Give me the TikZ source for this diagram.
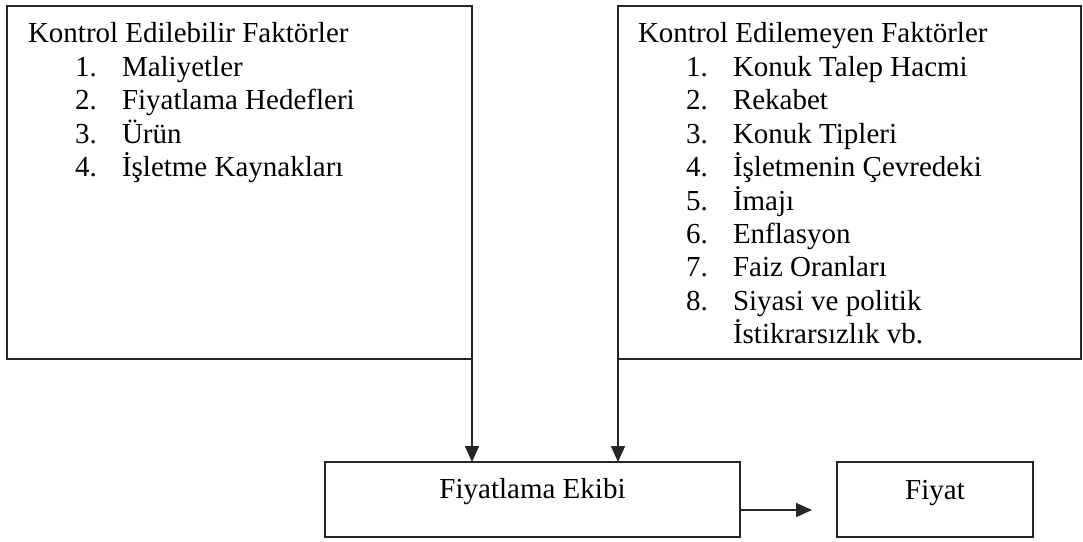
\documentclass[tikz,border=0pt]{standalone}
\usepackage{fontspec}
\setmainfont{Liberation Serif}
\usetikzlibrary{arrows.meta}
\begin{document}
\begin{tikzpicture}[x=0.75pt,y=-0.75pt,
  box/.style={draw=black!85, line width=1.2pt, rectangle, inner sep=0pt, outer sep=0pt},
  lbl/.style={anchor=base west, inner sep=0pt, outer sep=0pt, font=\fontsize{21.75}{25}\selectfont},
  clbl/.style={anchor=base, inner sep=0pt, outer sep=0pt, font=\fontsize{21.75}{25}\selectfont},
  arr/.style={draw=black!85, line width=1.2pt, -{Triangle[length=12pt,width=10.5pt]}}]
\useasboundingbox (0,0) rectangle (1083,542);
% boxes
\node[box, minimum width=465*0.75pt, minimum height=353*0.75pt] (left) at (239.5,182.5) {};
\node[box, minimum width=463*0.75pt, minimum height=353*0.75pt] (right) at (849.5,182.5) {};
\node[box, minimum width=415*0.75pt, minimum height=75*0.75pt] (ekibi) at (532.5,499.5) {};
\node[box, minimum width=196*0.75pt, minimum height=75*0.75pt] (fiyat) at (935,499.5) {};
% left box text
\node[lbl] (lh) at (28,43) {Kontrol Edilebilir Faktörler};
\node[lbl] (ln1) at (75,76.4) {1.};
\node[lbl] (lt1) at (122,76.4) {Maliyetler};
\node[lbl] (ln2) at (75,109.8) {2.};
\node[lbl] (lt2) at (122,109.8) {Fiyatlama Hedefleri};
\node[lbl] (ln3) at (75,143.2) {3.};
\node[lbl] (lt3) at (122,143.2) {Ürün};
\node[lbl] (ln4) at (75,176.6) {4.};
\node[lbl] (lt4) at (122,176.6) {İşletme Kaynakları};
% right box text
\node[lbl] (rh) at (638,43) {Kontrol Edilemeyen Faktörler};
\node[lbl] (rn1) at (686,76.4) {1.};
\node[lbl] (rt1) at (733,76.4) {Konuk Talep Hacmi};
\node[lbl] (rn2) at (686,109.8) {2.};
\node[lbl] (rt2) at (733,109.8) {Rekabet};
\node[lbl] (rn3) at (686,143.2) {3.};
\node[lbl] (rt3) at (733,143.2) {Konuk Tipleri};
\node[lbl] (rn4) at (686,176.6) {4.};
\node[lbl] (rt4) at (733,176.6) {İşletmenin Çevredeki};
\node[lbl] (rn5) at (686,210) {5.};
\node[lbl] (rt5) at (733,210) {İmajı};
\node[lbl] (rn6) at (686,243.4) {6.};
\node[lbl] (rt6) at (733,243.4) {Enflasyon};
\node[lbl] (rn7) at (686,276.8) {7.};
\node[lbl] (rt7) at (733,276.8) {Faiz Oranları};
\node[lbl] (rn8) at (686,310.2) {8.};
\node[lbl] (rt8) at (733,310.2) {Siyasi ve politik};
\node[lbl] (rt9) at (733,343.6) {İstikrarsızlık vb.};
% bottom texts
\node[clbl] (ekibitext) at (532.5,498) {Fiyatlama Ekibi};
\node[clbl] (fiyattext) at (935,499) {Fiyat};
% connectors
\draw[arr] (left.south east) -- (left.south east |- ekibi.north);
\draw[arr] (right.south west) -- (right.south west |- ekibi.north);
\coordinate (tip) at (812,510);
\draw[arr] (ekibi.east |- tip) -- (tip);
\end{tikzpicture}
\end{document}
